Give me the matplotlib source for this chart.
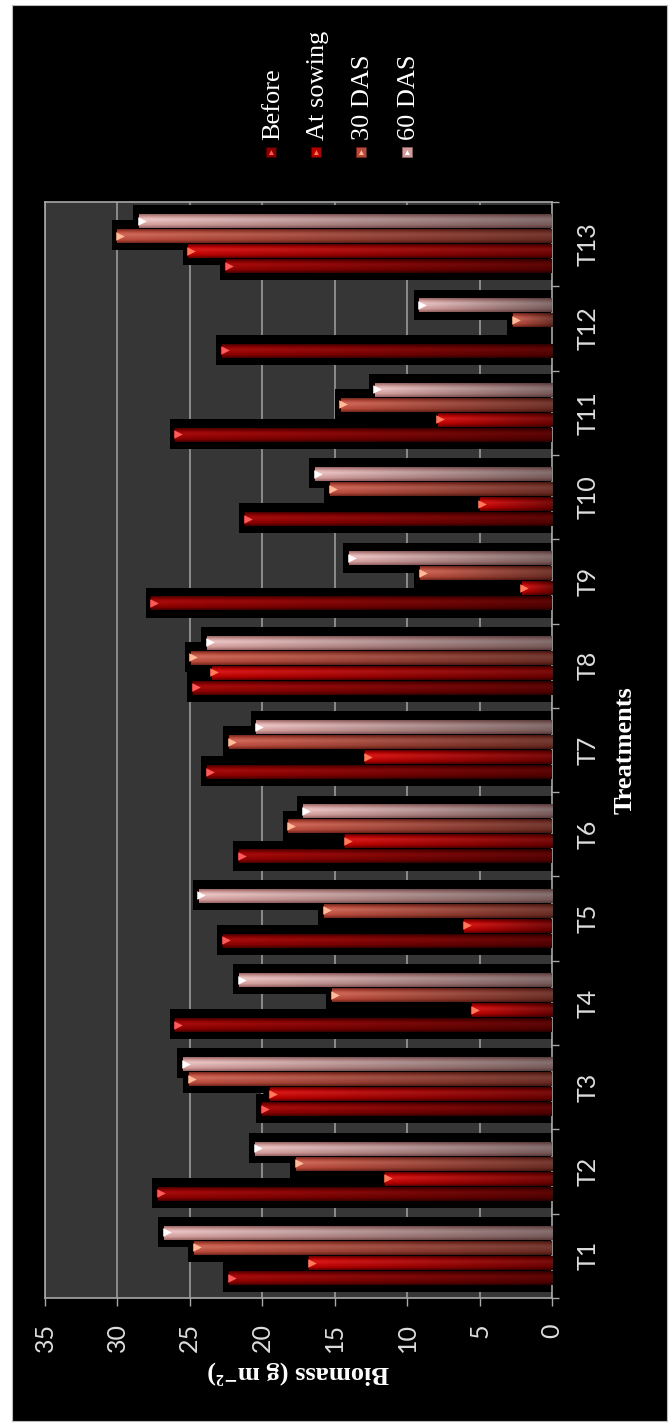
import matplotlib
matplotlib.use('Agg')
import numpy as np
import matplotlib.pyplot as plt
from matplotlib.patches import Rectangle
from matplotlib.colors import to_rgb

# ---------------- data ----------------
categories = ['T1', 'T2', 'T3', 'T4', 'T5', 'T6', 'T7', 'T8', 'T9', 'T10', 'T11', 'T12', 'T13']
before = [22.3, 27.2, 20.0, 26.0, 22.7, 21.6, 23.8, 24.8, 27.65, 21.2, 26.0, 22.8, 22.5]
at_sowing = [16.8, 11.55, 19.45, 5.55, 6.05, 14.3, 12.9, 23.5, 2.1, 5.0, 7.9, 0.0, 25.1]
das30 = [24.7, 17.7, 25.05, 15.2, 15.75, 18.2, 22.3, 24.95, 9.1, 15.35, 14.6, 2.7, 30.0]
das60 = [26.8, 20.5, 25.5, 21.6, 24.4, 17.2, 20.4, 23.8, 14.0, 16.35, 12.25, 9.15, 28.5]
series_names = ['Before', 'At sowing', '30 DAS', '60 DAS']
value_ticks = [0, 5, 10, 15, 20, 25, 30, 35]

series = [before, at_sowing, das30, das60]
# (edge, base, highlight, tip) colours per series
palette = [
    ('#3e0000', '#8a0000', '#aa0c0c', '#ff5a5a'),
    ('#5a0000', '#b80000', '#dc1a1a', '#ff7a5a'),
    ('#6e2418', '#b8493b', '#d26c5c', '#ffbc98'),
    ('#946060', '#d19c9a', '#eec8c8', '#ffffff'),
]

W, H = 669, 1426
fig = plt.figure(figsize=(W / 100, H / 100), dpi=100, facecolor='white')

# black chart background
fig.patches.append(Rectangle((12 / W, 5 / H), 655 / W, 1416 / H, transform=fig.transFigure,
                             facecolor='black', edgecolor='#bbbbbb', lw=0.8, zorder=-10))

ax_l, ax_r, ax_t, ax_b = 45, 552, 202, 1298
ax = fig.add_axes([ax_l / W, (H - ax_b) / H, (ax_r - ax_l) / W, (ax_b - ax_t) / H])
ax.set_facecolor('#363636')

y = np.arange(len(categories))
pitch = 0.178
thick = 0.155
offsets = [(k - 1.5) * pitch for k in range(4)]

# shadows (3-D depth)
for k, vals in enumerate(series):
    v = np.array(vals)
    m = v > 0
    ax.barh(y[m] + offsets[k] + 0.015, v[m] + 0.4, height=thick + 0.2, left=0,
            color='black', zorder=2, linewidth=0)

# bars: shaded fill across the thickness and darkening toward zero
nrow, ncol = 11, 40
prof_pos = [0.0, 0.22, 0.62, 0.82, 1.0]
for k, vals in enumerate(series):
    edge, base, hi, tip = [np.array(to_rgb(c)) for c in palette[k]]
    cols = [edge, base, hi, base, edge]
    fr = (np.arange(nrow) + 0.5) / nrow
    prof = np.array([[np.interp(f, prof_pos, [cc[i] for cc in cols]) for i in range(3)]
                     for f in fr])
    along = np.linspace(0.62, 1.0, ncol) ** 1.2
    img = prof[:, None, :] * along[None, :, None]
    for i, val in enumerate(vals):
        if val <= 0:
            continue
        yc = y[i] + offsets[k]
        ax.imshow(img, origin='lower', extent=(0, val, yc - thick / 2, yc + thick / 2),
                  aspect='auto', interpolation='bilinear', zorder=3)
    v = np.array(vals)
    m = v > 0
    ax.scatter(v[m] - 0.2, y[m] + offsets[k] + 0.01, marker='>', s=38, color=tip,
               zorder=4, linewidths=0)

ax.set_aspect('auto')
ax.set_xlim(35, 0)
ax.set_ylim(-0.5, len(categories) - 0.5)

# value axis (bottom)
ax.set_xticks(value_ticks)
ax.set_xticklabels([str(t) for t in value_ticks], rotation=90, family='Lato',
                   fontsize=18, color='#dddddd')
ax.tick_params(axis='x', direction='out', length=6, width=1, color='#a8a8a8', pad=12)
ax.xaxis.grid(True, color='#9a9a9a', lw=1.2)
ax.set_axisbelow(True)

# category axis (right)
ax.yaxis.tick_right()
ax.set_yticks(y)
ax.set_yticklabels(categories, rotation=90, family='Lato', fontsize=18,
                   color='#dddddd', va='center')
ax.set_yticks(np.arange(-0.5, len(categories), 1), minor=True)
ax.tick_params(axis='y', which='major', length=0, pad=18)
ax.tick_params(axis='y', which='minor', direction='out', length=5, width=1, color='#a8a8a8')
ax.tick_params(axis='x', which='minor', length=0)

for s in ax.spines.values():
    s.set_color('#a8a8a8')
    s.set_linewidth(1.2)

# axis titles
ax.set_xlabel('Biomass (g m\u207b\u00b2)', family=['Liberation Serif', 'DejaVu Serif'],
              fontweight='bold', fontsize=19, color='white', rotation=180)
ax.xaxis.set_label_coords(0.5, -(1373 - ax_b) / (ax_b - ax_t))
ax.xaxis.label.set_va('center')
ax.yaxis.set_label_position('right')
ax.set_ylabel('Treatments', family='Liberation Serif', fontweight='bold', fontsize=19,
              color='white', rotation=90)
ax.yaxis.set_label_coords((625 - ax_l) / (ax_r - ax_l), 0.5)
ax.yaxis.label.set_va('center')

# legend (drawn manually because the whole chart is rotated)
leg_x = [271, 316, 361, 407]
for k, name in enumerate(series_names):
    edge, base, hi, tip = palette[k]
    fig.patches.append(Rectangle(((leg_x[k] - 5) / W, (H - 157) / H), 10 / W, 10 / H,
                                 transform=fig.transFigure, facecolor=base,
                                 edgecolor=edge, lw=0.5, zorder=5))
    fig.text(leg_x[k] / W, (H - 152) / H, '\u25b8', color=tip, fontsize=7,
             ha='center', va='center', rotation=90, family='DejaVu Sans', zorder=6)
    fig.text((leg_x[k] + 2) / W, (H - 140) / H, name, family='Liberation Serif',
             fontsize=19, color='white', rotation=90, ha='center', va='bottom')

fig.savefig('out.png', dpi=100, facecolor='white')
